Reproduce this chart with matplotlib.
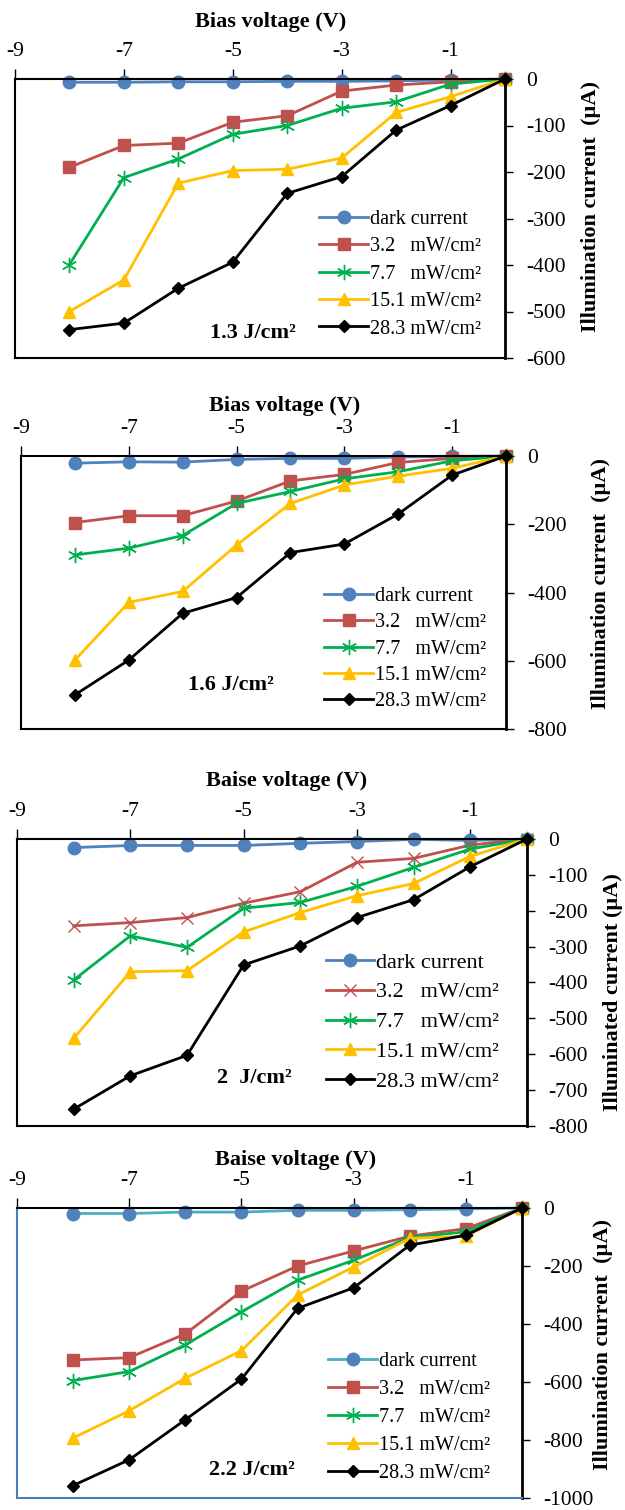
import matplotlib.pyplot as plt

plt.rcParams['font.family'] = ['Liberation Serif', 'DejaVu Serif']
plt.rcParams['axes.unicode_minus'] = False

# bias voltage (V)
volts = [-8, -7, -6, -5, -4, -3, -2, -1, 0]
series_labels = ['dark current', '3.2   mW/cm²', '7.7   mW/cm²',
                 '15.1 mW/cm²', '28.3 mW/cm²']

# panel 1 : 1.3 J/cm2
dark_1 = [-7, -7, -6, -6, -5, -5, -4, -2, 0]
i32_1 = [-190, -143, -138, -93, -79, -26, -13, -6, 0]
i77_1 = [-399, -212, -172, -119, -100, -63, -49, -11, 0]
i151_1 = [-500, -432, -224, -197, -194, -170, -72, -38, 0]
i283_1 = [-539, -525, -450, -394, -246, -210, -110, -57, 0]

# panel 2 : 1.6 J/cm2
dark_2 = [-21, -17, -18, -10, -7, -7, -3, -1, 0]
i32_2 = [-195, -175, -175, -132, -73, -54, -19, -7, 0]
i77_2 = [-290, -270, -233, -139, -104, -67, -46, -14, 0]
i151_2 = [-598, -429, -397, -261, -139, -85, -59, -36, 0]
i283_2 = [-700, -598, -461, -415, -283, -258, -170, -56, 0]

# panel 3 : 2 J/cm2
dark_3 = [-24, -18, -18, -18, -12, -7, -1, -4, 0]
i32_3 = [-242, -233, -219, -179, -147, -65, -54, -17, 0]
i77_3 = [-393, -270, -302, -193, -177, -132, -79, -28, 0]
i151_3 = [-556, -370, -367, -259, -205, -158, -124, -48, 0]
i283_3 = [-753, -660, -603, -351, -298, -219, -169, -77, 0]

# panel 4 : 2.2 J/cm2
dark_4 = [-19, -19, -14, -14, -8, -8, -6, -3, 0]
i32_4 = [-524, -516, -434, -287, -200, -148, -97, -71, 0]
i77_4 = [-595, -564, -472, -358, -249, -180, -102, -82, 0]
i151_4 = [-793, -699, -587, -492, -300, -203, -105, -97, 0]
i283_4 = [-957, -868, -730, -590, -346, -275, -128, -94, 0]

BLUE, RED, GREEN, GOLD = '#4F81BD', '#C0504D', '#00B050', '#FFC000'

W, H = 625, 1510
fig = plt.figure(figsize=(W / 100, H / 100), dpi=100)


def px(x, y):
    return x / W, 1 - y / H


panels = [
    dict(box=(15, 79, 505, 358), data=[dark_1, i32_1, i77_1, i151_1, i283_1],
         ymin=-600, step=100, title='Bias voltage (V)', title_xy=(271, 22),
         ylabel='Illumination current  (µA)', ylabel_xy=(591, 207),
         note='1.3 J/cm²', note_xy=(253, 333), leg_xy=(319, 217),
         leg_fs=14.5, leg_sp=0.41, leg_hl=2.45,
         red_marker='s', dark_line=BLUE, frame='black'),
    dict(box=(21, 456, 506, 729), data=[dark_2, i32_2, i77_2, i151_2, i283_2],
         ymin=-800, step=200, title='Bias voltage (V)', title_xy=(285, 406),
         ylabel='Illumination current  (µA)', ylabel_xy=(601, 583),
         note='1.6 J/cm²', note_xy=(231, 685), leg_xy=(324, 594),
         leg_fs=14.5, leg_sp=0.36, leg_hl=2.45,
         red_marker='s', dark_line=BLUE, frame='black'),
    dict(box=(17, 839, 527, 1126), data=[dark_3, i32_3, i77_3, i151_3, i283_3],
         ymin=-800, step=100, title='Baise voltage (V)', title_xy=(287, 781),
         ylabel='Illuminated current (µA)', ylabel_xy=(613, 992),
         note='2  J/cm²', note_xy=(254, 1078), leg_xy=(326, 959),
         leg_fs=16, leg_sp=0.42, leg_hl=2.16,
         red_marker='x', dark_line=BLUE, frame='black'),
    dict(box=(17, 1208, 522, 1498), data=[dark_4, i32_4, i77_4, i151_4, i283_4],
         ymin=-1000, step=200, title='Baise voltage (V)', title_xy=(296, 1160),
         ylabel='Illumination current  (µA)', ylabel_xy=(603, 1345),
         note='2.2 J/cm²', note_xy=(252, 1470), leg_xy=(328, 1359),
         leg_fs=14.5, leg_sp=0.44, leg_hl=2.45,
         red_marker='s', dark_line='#4BACC6', frame='#4A7EBB'),
]

for p in panels:
    l, t, r, b = p['box']
    ax = fig.add_axes([l / W, 1 - b / H, (r - l) / W, (b - t) / H])

    styles = [
        dict(color=p['dark_line'], marker='o', ms=9, mfc=BLUE, mec=BLUE),
        dict(color=RED, marker=p['red_marker'], ms=9, mfc=RED, mec=RED, mew=1.0),
        dict(color=GREEN, marker=(6, 2, 0), ms=11, mec=GREEN, mew=1.0),
        dict(color=GOLD, marker='^', ms=9, mfc=GOLD, mec=GOLD),
        dict(color='black', marker='D', ms=6.5, mfc='black', mec='black'),
    ]
    handles = []
    for ys, st in zip(p['data'], styles):
        ln, = ax.plot(volts, ys, lw=2.0, clip_on=False, **st)
        handles.append(ln)

    ax.set_xlim(-9, 0)
    ax.set_ylim(p['ymin'], 0)
    ax.set_xticks([-9, -7, -5, -3, -1])
    ax.set_yticks(list(range(p['ymin'], 1, p['step'])))
    ax.xaxis.tick_top()
    ax.yaxis.tick_right()
    ax.tick_params(axis='x', direction='out', length=7, width=1, pad=6, labelsize=15.5)
    ax.tick_params(axis='y', direction='out', length=6, width=1, pad=9, labelsize=15.5)

    ax.spines['top'].set_linewidth(1.5)
    ax.spines['right'].set_linewidth(2)
    for side in ('left', 'bottom'):
        ax.spines[side].set_color(p['frame'])
        ax.spines[side].set_linewidth(1.5)

    fx, fy = px(*p['title_xy'])
    fig.text(fx, fy, p['title'], ha='center', va='center', fontsize=16, fontweight='bold')
    fx, fy = px(*p['ylabel_xy'])
    fig.text(fx, fy, p['ylabel'], ha='center', va='center', rotation=90,
             fontsize=16, fontweight='bold')
    fx, fy = px(*p['note_xy'])
    fig.text(fx, fy, p['note'], ha='center', va='center', fontsize=16, fontweight='bold')

    lx, ly = p['leg_xy']
    ax.legend(handles, series_labels, loc='upper left',
              bbox_to_anchor=px(lx, ly - 7), bbox_transform=fig.transFigure,
              frameon=False, borderpad=0, borderaxespad=0, handlelength=p['leg_hl'],
              handletextpad=0.1, labelspacing=p['leg_sp'], fontsize=p['leg_fs'])

fig.savefig('out.png', dpi=100)
